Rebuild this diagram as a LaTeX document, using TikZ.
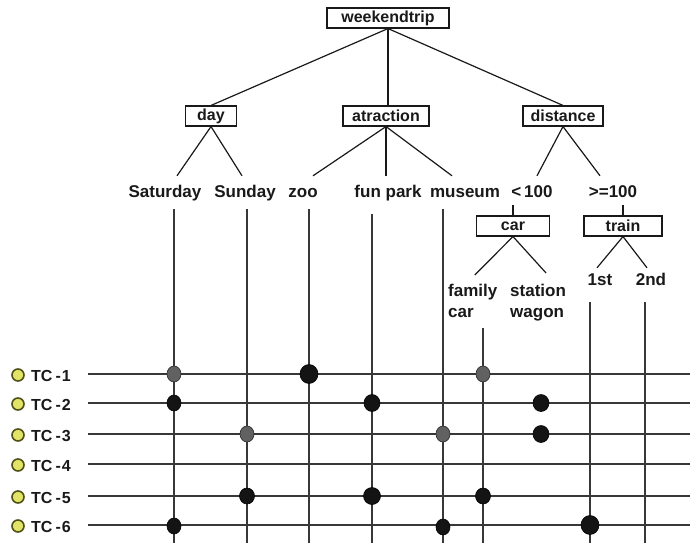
\documentclass[tikz,border=0pt]{standalone}
\usepackage{fontspec}
\setmainfont{Liberation Sans}
\definecolor{tcfill}{RGB}{226,228,104}
\definecolor{tcline}{RGB}{80,80,25}
\definecolor{ink}{RGB}{25,25,25}
\begin{document}
\begin{tikzpicture}[x=1pt,y=-1pt,
  box/.style={draw=ink, line width=1.1pt, inner sep=0pt, minimum height=20pt, text=ink,
    font=\fontsize{16}{18}\selectfont\bfseries},
  leaf/.style={inner xsep=0pt, inner ysep=8pt, text height=13pt, text depth=4pt, anchor=base, text=ink,
    font=\fontsize{17}{20}\selectfont\bfseries},
  twoline/.style={inner sep=0pt, anchor=north west, align=left, text=ink,
    font=\fontsize{17}{21}\selectfont\bfseries},
  edge/.style={line width=1.2pt, draw=ink},
  gridline/.style={line width=1.5pt, draw=black!78},
  dotblack/.style={fill=black!92, draw=black, line width=0.6pt},
  dotgray/.style={fill=black!62, draw=black!85, line width=0.6pt},
  tcmark/.style={circle, draw=tcline, fill=tcfill, line width=1.6pt, inner sep=0pt, minimum size=12pt},
  tclabel/.style={inner sep=0pt, anchor=base west, text=ink, font=\fontsize{16}{18}\selectfont\bfseries}
]
\useasboundingbox (0,0) rectangle (690,543);

% tree boxes
\node[box, minimum width=122pt] (root) at (388,18) {weekendtrip};
\node[box, minimum width=51pt] (day) at (211,116) {day};
\node[box, minimum width=86pt] (attr) at (386,116) {atraction};
\node[box, minimum width=80pt] (dist) at (563,116) {distance};

% leaves
\node[leaf] (sat) at (165,197) {Saturday};
\node[leaf] (sun) at (245,197) {Sunday};
\node[leaf] (zoo) at (303,197) {zoo};
\node[leaf] (fun) at (388,197) {fun park};
\node[leaf] (mus) at (465,197) {museum};
\node[leaf, text depth=0pt] (lt) at (532,197) {<\,100};
\node[leaf, text depth=0pt] (ge) at (613,197) {>=100};

\node[box, minimum width=73pt] (car) at (513,226) {car};
\node[box, minimum width=78pt] (train) at (623,226) {train};

\node[twoline] (fam) at (448,284) {family\\car};
\node[twoline] (wag) at (510,284) {station\\wagon};
\node[leaf] (first) at (600,285) {1st};
\node[leaf] (second) at (651,285) {2nd};

% tree edges
\draw[edge] (root.south) -- (day.north);
\draw[edge] (root.south) -- (root.south |- attr.north);
\draw[edge] (root.south) -- (dist.north);
\draw[edge] (day.south) -- ([xshift=12pt]sat.north);
\draw[edge] (day.south) -- ([xshift=-3pt]sun.north);
\draw[edge] (attr.south) -- ([xshift=10pt]zoo.north);
\draw[edge] (attr.south) -- ([xshift=-2pt]fun.north);
\draw[edge] (attr.south) -- ([xshift=-13pt]mus.north);
\draw[edge] (dist.south) -- ([xshift=5pt]lt.north);
\draw[edge] (dist.south) -- ([xshift=-13pt]ge.north);
\draw[edge] (lt.south -| car.north) -- (car.north);
\draw[edge] (ge.south -| train.north) -- (train.north);
\draw[edge] (car.south) -- ([xshift=2pt,yshift=9pt]fam.north);
\draw[edge] (car.south) -- ([xshift=8pt,yshift=11pt]wag.north);
\draw[edge] (train.south) -- ([xshift=-3pt,yshift=-4pt]first.north);
\draw[edge] (train.south) -- ([xshift=-4pt,yshift=-4pt]second.north);

% column bottoms
\coordinate (bSat) at (174,543);
\coordinate (bSun) at (247,543);
\coordinate (bZoo) at (309,543);
\coordinate (bFun) at (372,543);
\coordinate (bMus) at (443,543);
\coordinate (bFam) at (483,543);
\coordinate (bWag) at (541,543);
\coordinate (bFst) at (590,543);
\coordinate (bSnd) at (645,543);

% rows
\foreach \i/\y in {1/374,2/403,3/434,4/464,5/496,6/525}{
  \coordinate (r\i a) at (88,\y);
  \coordinate (r\i b) at (690,\y);
  \draw[gridline] (r\i a) -- (r\i b);
  \node[tcmark] (m\i) at (18,\y+1) {};
  \node[tclabel] (t\i) at (31,\y+7) {TC\kern3pt-\kern1pt\i};
}

% columns
\draw[gridline] (sat.south -| bSat) -- (bSat);
\draw[gridline] (sun.south -| bSun) -- (bSun);
\draw[gridline] (zoo.south -| bZoo) -- (bZoo);
\draw[gridline] ([yshift=-5pt]fun.south -| bFun) -- (bFun);
\draw[gridline] (mus.south -| bMus) -- (bMus);
\draw[gridline] ([yshift=-10pt]fam.south -| bFam) -- (bFam);
\draw[gridline] ([yshift=-5pt]first.south -| bFst) -- (bFst);
\draw[gridline] ([yshift=-5pt]second.south -| bSnd) -- (bSnd);

% dots
\filldraw[dotgray]  (bSat |- r1a) ellipse (7 and 8);
\filldraw[dotblack] (bZoo |- r1a) ellipse (9 and 9.5);
\filldraw[dotgray]  (bFam |- r1a) ellipse (7 and 8);

\filldraw[dotblack] (bSat |- r2a) ellipse (7 and 8);
\filldraw[dotblack] (bFun |- r2a) ellipse (8 and 8.5);
\filldraw[dotblack] (bWag |- r2a) ellipse (8 and 8.5);

\filldraw[dotgray]  (bSun |- r3a) ellipse (7 and 8);
\filldraw[dotgray]  (bMus |- r3a) ellipse (7 and 8);
\filldraw[dotblack] (bWag |- r3a) ellipse (8 and 8.5);

\filldraw[dotblack] (bSun |- r5a) ellipse (7.5 and 8);
\filldraw[dotblack] (bFun |- r5a) ellipse (8.5 and 8.5);
\filldraw[dotblack] (bFam |- r5a) ellipse (7.5 and 8);

\filldraw[dotblack] ([yshift=-1pt]bSat |- r6a) ellipse (7 and 8);
\filldraw[dotblack] ([yshift=-2pt]bMus |- r6a) ellipse (7 and 8);
\filldraw[dotblack] (bFst |- r6a) ellipse (9 and 9.5);
\end{tikzpicture}
\end{document}
